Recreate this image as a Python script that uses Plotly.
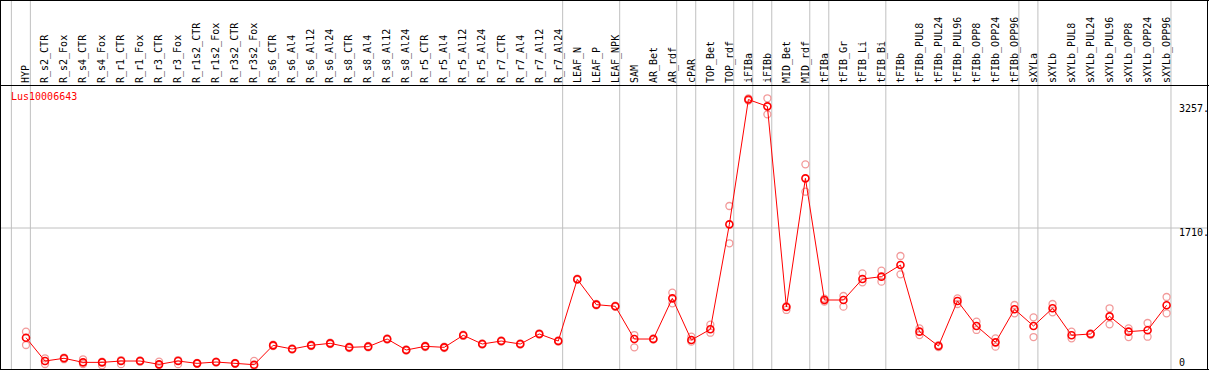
import plotly.graph_objects as go

# ---------------- data ----------------
categories = [
    "HYP", "R_s2_CTR", "R_s2_Fox", "R_s4_CTR", "R_s4_Fox", "R_r1_CTR", "R_r1_Fox",
    "R_r3_CTR", "R_r3_Fox", "R_r1s2_CTR", "R_r1s2_Fox", "R_r3s2_CTR", "R_r3s2_Fox",
    "R_s6_CTR", "R_s6_Al4", "R_s6_Al12", "R_s6_Al24", "R_s8_CTR", "R_s8_Al4",
    "R_s8_Al12", "R_s8_Al24", "R_r5_CTR", "R_r5_Al4", "R_r5_Al12", "R_r5_Al24",
    "R_r7_CTR", "R_r7_Al4", "R_r7_Al12", "R_r7_Al24", "LEAF_N", "LEAF_P", "LEAF_NPK",
    "SAM", "AR_Bet", "AR_rdf", "cPAR", "TOP_Bet", "TOP_rdf", "iFIBa", "iFIBb",
    "MID_Bet", "MID_rdf", "tFIBa", "tFIB_Gr", "tFIB_Li", "tFIB_Bi", "tFIBb",
    "tFIBb_PUL8", "tFIBb_PUL24", "tFIBb_PUL96", "tFIBb_OPP8", "tFIBb_OPP24",
    "tFIBb_OPP96", "sXYLa", "sXYLb", "sXYLb_PUL8", "sXYLb_PUL24", "sXYLb_PUL96",
    "sXYLb_OPP8", "sXYLb_OPP24", "sXYLb_OPP96",
]

mean_values = [
    389, 108, 141, 92, 92, 108, 108, 68, 108, 80, 96, 80, 64,
    297, 253, 297, 321, 273, 281, 373, 241, 285, 273, 418, 313,
    349, 313, 434, 349, 1092, 787, 767,
    373, 373, 863, 361, 490, 1754, 3257, 3175,
    759, 2308, 843, 843, 1096, 1124, 1264,
    462, 289, 831, 530, 333, 731,
    530, 743, 418, 434, 646, 462, 478, 779,
]

rep_high = [
    461, 141, 150, 129, 100, 120, 115, 100, 120, 85, 100, 85, 110,
    305, 260, 305, 329, 281, 289, 381, 249, 293, 281, 426, 321,
    357, 321, 442, 357, 1100, 795, 775,
    421, 380, 931, 401, 546, 1975, 3270, 3272,
    770, 2477, 860, 891, 1164, 1196, 1373,
    502, 300, 863, 582, 381, 783,
    634, 795, 462, 440, 743, 502, 566, 879,
]

rep_low = [
    301, 72, 130, 70, 56, 70, 100, 60, 70, 75, 90, 75, 50,
    289, 245, 289, 313, 265, 273, 365, 233, 277, 265, 410, 305,
    341, 305, 426, 341, 1085, 780, 760,
    273, 365, 803, 341, 449, 1526, 3245, 3079,
    723, 2147, 825, 763, 1056, 1064, 1152,
    421, 275, 795, 482, 281, 683,
    397, 695, 381, 425, 550, 397, 401, 683,
]

# index of the category after which a separator line is drawn
group_ends = [-1, 0, 28, 31, 34, 35, 37, 38, 39, 41, 42, 45, 52, 53, 60]

gene_id = "Lus10006643"
mid_line = 1710
y_top = 3420
y_tick_labels = {3257: "3257.", 1710: "1710.", 0: "0"}

# ---------------- layout constants ----------------
W, H = 1209, 370
TOP = 86          # header height (px)
PLOT_H = H - TOP
STEP = 19.01      # px per category
X0_PX = 26        # px of first category
x_min = -X0_PX / STEP
x_max = x_min + W / STEP


def py(p):  # pixel (from top) -> paper y
    return (H - p) / PLOT_H


def px(p):  # pixel (from left) -> paper x
    return p / W


MONO = "DejaVu Sans Mono"
GRID = "#c0c0c0"
RED = "#ff0000"
PALE = "#f29a9a"

xs = list(range(len(categories)))

fig = go.Figure()

fig.add_trace(go.Scatter(
    x=xs + xs, y=rep_high + rep_low, mode="markers",
    marker=dict(symbol="circle-open", size=7, color=PALE, line=dict(width=1.3, color=PALE)),
    hoverinfo="skip", showlegend=False, cliponaxis=False,
))
fig.add_trace(go.Scatter(
    x=xs, y=mean_values, mode="lines+markers",
    line=dict(color=RED, width=1),
    marker=dict(symbol="circle-open", size=7, color=RED, line=dict(width=1.6, color=RED)),
    showlegend=False, cliponaxis=False,
))

shapes = []
for g in group_ends:
    shapes.append(dict(type="line", xref="x", yref="paper", x0=g + 0.23, x1=g + 0.23,
                       y0=0, y1=py(0), line=dict(color=GRID, width=1), layer="below"))
shapes.append(dict(type="line", xref="paper", yref="y", x0=0, x1=px(1207),
                   y0=mid_line, y1=mid_line, line=dict(color=GRID, width=1), layer="below"))
# frame lines
for y in (0.5, 85.5, 369.5):
    shapes.append(dict(type="line", xref="paper", yref="paper", x0=0, x1=1,
                       y0=py(y), y1=py(y), line=dict(color="black", width=1)))
for x in (0.5, 1207.5):
    shapes.append(dict(type="line", xref="paper", yref="paper", x0=px(x), x1=px(x),
                       y0=py(0), y1=0, line=dict(color="black", width=1)))

annotations = [
    dict(text=gene_id, xref="paper", yref="paper", x=px(9), y=py(97), xanchor="left",
         yanchor="middle", showarrow=False, font=dict(family=MONO, size=10, color=RED)),
]
y_shifts = {3257: -9, 1710: -4, 0: 8}
for v, t in y_tick_labels.items():
    annotations.append(dict(text=t, xref="paper", yref="y", x=px(1177), y=v, xanchor="left",
                            yanchor="middle", yshift=y_shifts[v], showarrow=False,
                            font=dict(family=MONO, size=10, color="black")))

fig.update_layout(
    width=W, height=H, margin=dict(l=0, r=0, t=TOP, b=0, autoexpand=False),
    paper_bgcolor="white", plot_bgcolor="white",
    xaxis=dict(range=[x_min, x_max], side="top", tickmode="array", tickvals=xs,
               ticktext=categories, tickangle=-90, ticks="", showgrid=False,
               zeroline=False, showline=False, ticklabelstandoff=2, automargin=False,
               tickfont=dict(family=MONO, size=10, color="black")),
    yaxis=dict(range=[0, y_top], showticklabels=False, showgrid=False, zeroline=False,
               showline=False, automargin=False),
    shapes=shapes, annotations=annotations,
)

fig.write_html(
    "out.html",
    config={"displayModeBar": False},
    post_script="document.body.style.margin='0';document.body.style.padding='0';",
)
